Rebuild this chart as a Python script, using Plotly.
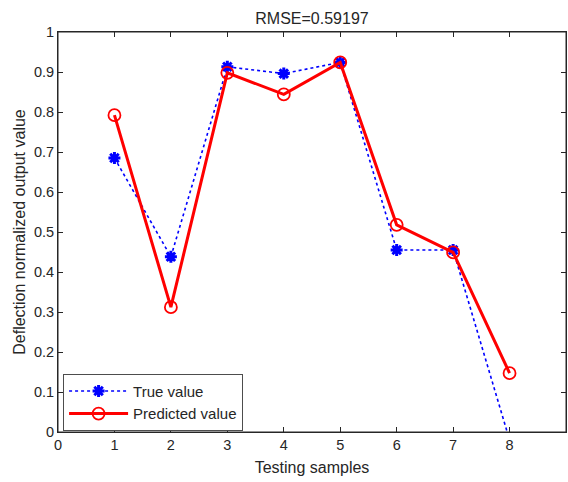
import plotly.graph_objects as go

# Test sample indices and model outputs
samples = [1, 2, 3, 4, 5, 6, 7, 8]
true_values = [0.685, 0.438, 0.913, 0.896, 0.924, 0.455, 0.455, -0.02]
predicted_values = [0.792, 0.312, 0.898, 0.844, 0.924, 0.518, 0.449, 0.147]
rmse_text = "RMSE=0.59197"

x_ticks = list(range(0, 10))
y_ticks = [round(0.1 * i, 1) for i in range(0, 11)]

ink = "#262626"
font_family = "Arial, 'Liberation Sans', Helvetica, sans-serif"

fig = go.Figure()

fig.add_trace(go.Scatter(
    x=samples, y=true_values, name="True value",
    mode="lines+markers",
    line=dict(color="#0000ff", width=1.6, dash="dot"),
    marker=dict(symbol="asterisk-open", size=10,
                color="#0000ff", line=dict(color="#0000ff", width=3)),
    cliponaxis=True,
))

fig.add_trace(go.Scatter(
    x=samples, y=predicted_values, name="Predicted value",
    mode="lines+markers",
    line=dict(color="#ff0000", width=3),
    marker=dict(symbol="circle-open", size=12,
                color="#ff0000", line=dict(color="#ff0000", width=1.8)),
    cliponaxis=False,
))

axis_common = dict(
    showgrid=False, zeroline=False,
    showline=True, linecolor=ink, linewidth=1,
    mirror="ticks", ticks="inside", ticklen=5, tickwidth=1, tickcolor=ink,
    tickfont=dict(family=font_family, size=14.5, color=ink),
)

fig.update_xaxes(
    range=[0, 9], tickmode="array", tickvals=x_ticks,
    ticktext=[str(v) for v in x_ticks],
    title=dict(text="Testing samples", standoff=9,
               font=dict(family=font_family, size=16, color=ink)),
    **axis_common,
)
fig.update_yaxes(
    range=[0, 1], tickmode="array", tickvals=y_ticks,
    ticktext=[("%g" % v) for v in y_ticks],
    title=dict(text="Deflection normalized output value", standoff=4,
               font=dict(family=font_family, size=16, color=ink)),
    **axis_common,
)

# Box frame around the axes area
fig.add_shape(type="rect", xref="paper", yref="paper", x0=0, y0=0, x1=1, y1=1,
              line=dict(color=ink, width=1), fillcolor="rgba(0,0,0,0)",
              layer="below")

fig.update_layout(
    width=568, height=482,
    margin=dict(l=58, r=2, t=32, b=50, pad=0),
    paper_bgcolor="white", plot_bgcolor="white",
    font=dict(family=font_family, color=ink),
    title=dict(text=rmse_text, x=0.5, xref="paper", xanchor="center",
               y=1 - 18 / 482, yref="container", yanchor="middle",
               font=dict(family=font_family, size=16, color=ink)),
    showlegend=True,
    legend=dict(
        x=0.01, y=0.003, xanchor="left", yanchor="bottom",
        bgcolor="white", bordercolor="#4d4d4d", borderwidth=1,
        font=dict(family=font_family, size=15, color=ink),
        itemwidth=59, tracegroupgap=0,
    ),
)

fig.write_html("out.html")
